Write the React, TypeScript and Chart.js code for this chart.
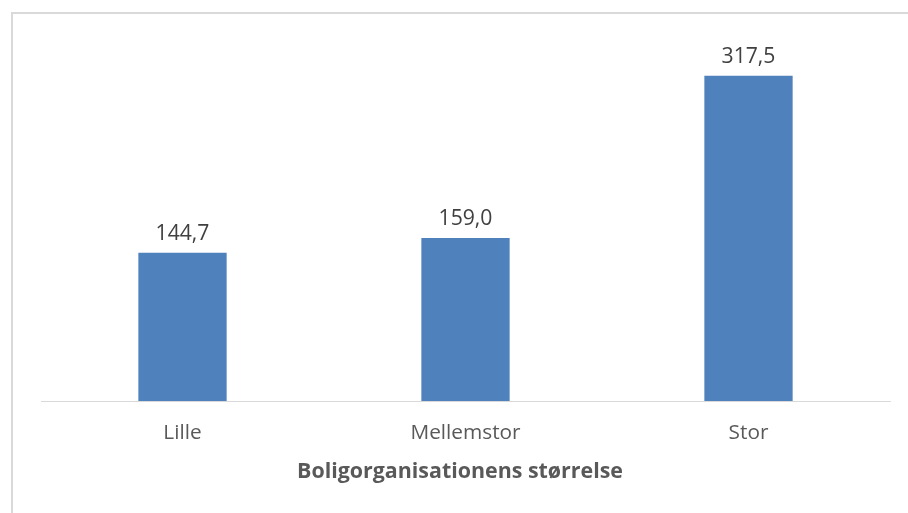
import React, { useEffect, useRef } from "react";
import { Chart, registerables } from "chart.js";

Chart.register(...registerables);

const categories = ["Lille", "Mellemstor", "Stor"];
const values = [144.7, 159.0, 317.5];
const axisTitle = "Boligorganisationens størrelse";

const FONT = "'Open Sans', sans-serif";

const dataLabels = {
  id: "dataLabels",
  afterDatasetsDraw(chart: any) {
    const ctx = chart.ctx;
    const meta = chart.getDatasetMeta(0);
    ctx.save();
    ctx.font = `21.2px ${FONT}`;
    ctx.fillStyle = "#404040";
    ctx.textAlign = "center";
    ctx.textBaseline = "middle";
    meta.data.forEach((bar: any, i: number) => {
      const v = chart.data.datasets[0].data[i] as number;
      const txt = v.toFixed(1).replace(".", ",");
      ctx.fillText(txt, bar.x, bar.y - 19);
    });
    ctx.restore();
  },
};

const axisTitlePlugin = {
  id: "axisTitlePlugin",
  afterDraw(chart: any) {
    const ctx = chart.ctx;
    const xs = chart.scales.x;
    ctx.save();
    ctx.font = `bold 21.4px ${FONT}`;
    ctx.fillStyle = "#595959";
    ctx.textAlign = "center";
    ctx.textBaseline = "middle";
    ctx.fillText(axisTitle, (xs.left + xs.right) / 2 - 5.5, xs.bottom - 11);
    ctx.restore();
  },
};

export default function App() {
  const ref = useRef<HTMLCanvasElement>(null);
  useEffect(() => {
    if (!ref.current) return;
    const chart = new Chart(ref.current, {
      type: "bar",
      data: {
        labels: categories,
        datasets: [
          {
            data: values,
            backgroundColor: "#4F81BD",
            borderWidth: 0,
            barPercentage: 1,
            categoryPercentage: 0.312,
          },
        ],
      },
      options: {
        responsive: false,
        animation: false,
        devicePixelRatio: 1,
        layout: { padding: { left: 41, right: 18, top: 42.4, bottom: 30.15 } },
        plugins: { legend: { display: false }, tooltip: { enabled: false } },
        scales: {
          x: {
            grid: { display: false, drawTicks: false },
            border: { display: true, color: "#d9d9d9", width: 1 },
            ticks: {
              color: "#595959",
              font: { family: FONT, size: 20.8 },
              padding: 20,
            },
            title: { display: false },
            afterFit(scale: any) {
              scale.height = 81.85;
            },
          },
          y: {
            display: false,
            min: 0,
            max: 350,
          },
        },
      },
      plugins: [dataLabels, axisTitlePlugin],
    });
    return () => chart.destroy();
  }, []);
  return (
    <div
      style={{
        position: "absolute",
        left: 0,
        top: 0,
        width: 908,
        height: 513,
        overflow: "hidden",
        background: "#ffffff",
      }}
    >
      <div
        style={{
          position: "absolute",
          left: 11,
          top: 12,
          width: 1000,
          height: 600,
          border: "2px solid #d9d9d9",
        }}
      />
      <canvas
        ref={ref}
        width={908}
        height={513}
        style={{ position: "absolute", left: 0, top: 0, width: 908, height: 513 }}
      />
    </div>
  );
}
